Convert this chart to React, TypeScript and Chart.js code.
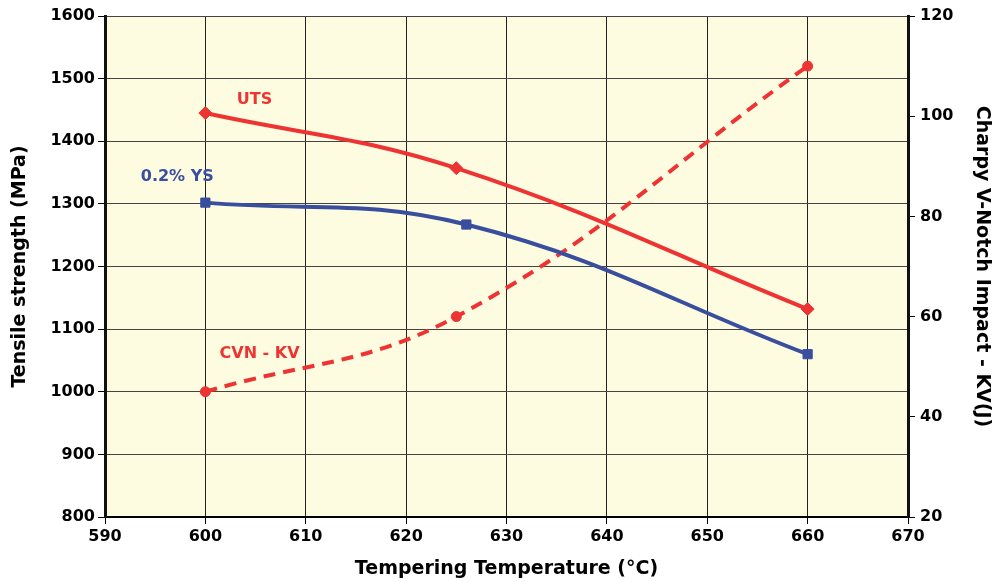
import React, { useEffect, useRef } from "react";
import { Chart, registerables } from "chart.js";

Chart.register(...registerables);

const utsTemps = [600, 625, 660];
const utsValues = [1445, 1357, 1132];
const ysTemps = [600, 626, 660];
const ysValues = [1302, 1267, 1060];
const cvnTemps = [600, 625, 660];
const cvnValues = [45, 60, 110];

const xTicks = [590, 600, 610, 620, 630, 640, 650, 660, 670];
const leftTicks = [800, 900, 1000, 1100, 1200, 1300, 1400, 1500, 1600];
const rightTicks = [20, 40, 60, 80, 100, 120];

const seriesLabels = [
  { text: "UTS", x: 604.9, y: 1466, color: "#EE3333" },
  { text: "0.2% YS", x: 597.2, y: 1343, color: "#3A4E9E" },
  { text: "CVN - KV", x: 605.4, y: 1060, color: "#EE3333" },
];

const RED = "#EE3333";
const BLUE = "#3A4E9E";
const FONT = "'DejaVu Sans', Verdana, sans-serif";

const bgPlugin = {
  id: "plotBg",
  beforeDraw(chart: any) {
    const { ctx, chartArea } = chart;
    ctx.save();
    ctx.fillStyle = "#FEFCE0";
    ctx.fillRect(chartArea.left, chartArea.top, chartArea.right - chartArea.left, chartArea.bottom - chartArea.top);
    ctx.restore();
  },
};

const labelPlugin = {
  id: "seriesLabels",
  afterDatasetsDraw(chart: any) {
    const { ctx } = chart;
    const xs = chart.scales.x;
    const ys = chart.scales.y;
    ctx.save();
    ctx.font = `bold 16px ${FONT}`;
    ctx.textAlign = "center";
    ctx.textBaseline = "middle";
    for (const l of seriesLabels) {
      ctx.fillStyle = l.color;
      ctx.fillText(l.text, xs.getPixelForValue(l.x), ys.getPixelForValue(l.y));
    }
    ctx.restore();
  },
};

export default function App() {
  const ref = useRef<HTMLCanvasElement>(null);
  useEffect(() => {
    if (!ref.current) return;
    const tickFont = { family: FONT, size: 16, weight: "bold" as const };
    const titleFont = { family: FONT, size: 19, weight: "bold" as const };
    const fmt = (v: any) => String(v);
    const chart = new Chart(ref.current, {
      type: "line",
      data: {
        datasets: [
          {
            label: "UTS",
            data: utsTemps.map((t, i) => ({ x: t, y: utsValues[i] })),
            borderColor: RED,
            backgroundColor: RED,
            borderWidth: 4,
            pointStyle: "rectRot",
            pointRadius: 6.5,
            pointBorderWidth: 1,
            tension: 0.4,
            yAxisID: "y",
          },
          {
            label: "0.2% YS",
            data: ysTemps.map((t, i) => ({ x: t, y: ysValues[i] })),
            borderColor: BLUE,
            backgroundColor: BLUE,
            borderWidth: 4,
            pointStyle: "rect",
            pointRadius: 6.5,
            pointBorderWidth: 1,
            tension: 0.4,
            yAxisID: "y",
          },
          {
            label: "CVN - KV",
            data: cvnTemps.map((t, i) => ({ x: t, y: cvnValues[i] })),
            borderColor: RED,
            backgroundColor: RED,
            borderWidth: 4,
            borderDash: [12, 8],
            pointStyle: "circle",
            pointRadius: 5,
            pointBorderWidth: 1,
            tension: 0.4,
            yAxisID: "y1",
          },
        ],
      },
      options: {
        animation: false,
        responsive: true,
        maintainAspectRatio: false,
        layout: { padding: { top: 16, left: 0, right: 0, bottom: 0 } },
        plugins: { legend: { display: false }, tooltip: { enabled: false } },
        scales: {
          x: {
            type: "linear",
            min: 590,
            max: 670,
            afterBuildTicks: (s: any) => { s.ticks = xTicks.map((v) => ({ value: v })); },
            afterFit: (s: any) => { s.height = 65; },
            grid: { color: "#222", lineWidth: 1, tickLength: 7, tickColor: "#000" },
            border: { color: "#000", width: 2 },
            ticks: { color: "#000", font: tickFont, padding: 3, callback: fmt },
            title: { display: true, text: "Tempering Temperature (°C)", color: "#000", font: titleFont, padding: { top: 0, bottom: 2 } },
          },
          y: {
            type: "linear",
            position: "left",
            min: 800,
            max: 1600,
            afterBuildTicks: (s: any) => { s.ticks = leftTicks.map((v) => ({ value: v })); },
            afterFit: (s: any) => { s.width = 105; },
            grid: { color: "#444", lineWidth: 1, tickLength: 7, tickColor: "#000" },
            border: { color: "#111", width: 3 },
            ticks: { color: "#000", font: tickFont, padding: 3, callback: fmt },
            title: { display: true, text: "Tensile strength (MPa)", color: "#000", font: titleFont, padding: { top: 9, bottom: 0 } },
          },
          y1: {
            type: "linear",
            position: "right",
            min: 20,
            max: 120,
            afterBuildTicks: (s: any) => { s.ticks = rightTicks.map((v) => ({ value: v })); },
            afterFit: (s: any) => { s.width = 85; },
            grid: { drawOnChartArea: false, tickLength: 7, tickColor: "#000" },
            border: { color: "#111", width: 3 },
            ticks: { color: "#000", font: tickFont, padding: 5, callback: fmt },
            title: { display: true, text: "Charpy V-Notch Impact - KV(J)", color: "#000", font: titleFont, padding: { top: 0, bottom: 0 } },
          },
        },
      },
      plugins: [bgPlugin, labelPlugin],
    } as any);
    return () => chart.destroy();
  }, []);
  return (
    <div style={{ position: "fixed", left: 0, top: 0, width: 993, height: 582, background: "#fff" }}>
      <canvas ref={ref} />
    </div>
  );
}
